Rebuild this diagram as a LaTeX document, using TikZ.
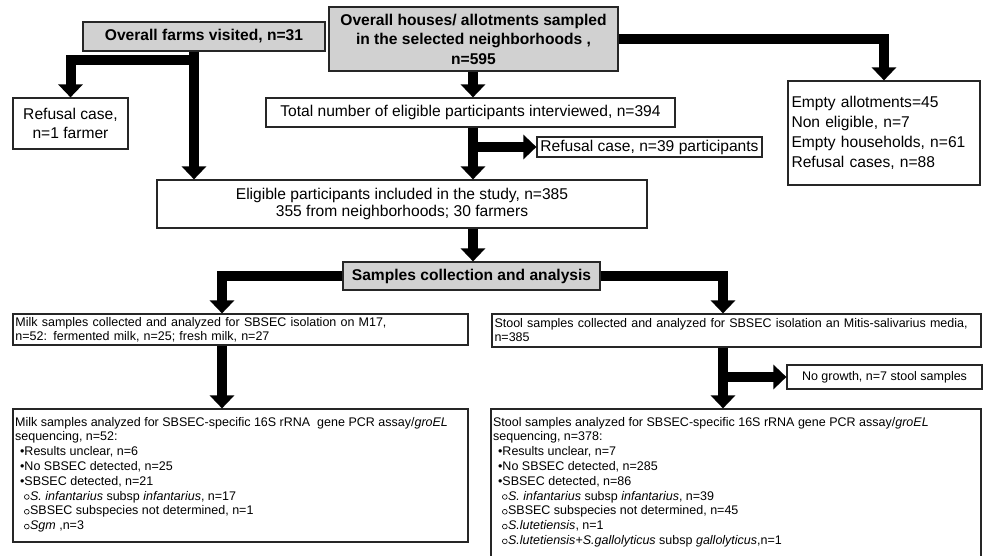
\documentclass[tikz,border=0pt]{standalone}
\usepackage{fontspec}
\setmainfont{Liberation Sans}
\usetikzlibrary{arrows.meta}
\newcommand\bigfnt{\fontsize{15.6}{19.5}\selectfont}
\newcommand\bigbold{\fontsize{15.6}{19.5}\selectfont\bfseries}
\newcommand\eligfnt{\fontsize{15.6}{17.5}\selectfont}
\newcommand\emptyfnt{\fontsize{15.6}{20}\selectfont}
\newcommand\smallfnt{\fontsize{12.5}{14}\selectfont}
\newcommand\anfnt{\fontsize{12.5}{14.8}\selectfont}
\newcommand\bul{\hspace*{5pt}•}
\newcommand\cir{\hspace*{9pt}\tikz[baseline=0pt]\draw[line width=0.6pt] (2.8pt,3.2pt) circle[radius=2.4pt];\hspace{0.6pt}}
\begin{document}
\begin{tikzpicture}[x=1pt,y=-1pt,
  box/.style={draw=black!85, line width=1.2pt, inner sep=0pt, align=center, font=\bigfnt},
  graybox/.style={box, fill=black!18, font=\bigbold},
  flow/.style={line width=10pt, line join=miter, -{Triangle[width=24pt,length=13pt]}}]
\useasboundingbox (0,0) rectangle (985,556);
\clip (0,0) rectangle (985,556);

% trunk x positions
\coordinate (tf) at (194,0);
\coordinate (th) at (473,0);
\coordinate (tm) at (222,0);
\coordinate (ts) at (723,0);
\coordinate (fb) at (194,60);

% nodes
\node[graybox, minimum width=242pt, minimum height=29pt] (farms) at (204,36.5) {Overall farms visited, n=31};
\node[graybox, minimum width=289pt, minimum height=64pt] (houses) at (473.5,39) {Overall houses/ allotments sampled\\in the selected neighborhoods ,\\n=595};
\node[box, minimum width=115pt, minimum height=51pt] (refusal) at (70.5,123.5) {Refusal case,\\n=1 farmer};
\node[box, minimum width=409pt, minimum height=29pt] (total) at (470.5,112.5) {Total number of eligible participants interviewed, n=394};
\node[box, minimum width=225pt, minimum height=20pt] (r39) at (649.5,147) {Refusal case, n=39 participants};
\node[box, font=\eligfnt, minimum width=490pt, minimum height=48pt] (eligible) at (402,204) {Eligible participants included in the study, n=385\\355 from neighborhoods; 30 farmers};
\node[box, font=\emptyfnt, align=left, text width=185pt, inner xsep=3.5pt, minimum height=104pt] (empty) at (884,133) {Empty allotments=45\\Non eligible, n=7\\Empty households, n=61\\Refusal cases, n=88};
\node[graybox, minimum width=257pt, minimum height=28pt] (samples) at (471.5,276) {Samples collection and analysis};
\node[box, font=\smallfnt, align=left, text width=450pt, inner xsep=2.5pt, minimum height=31pt] (milk) at (240.5,329.5) {Milk samples collected and analyzed for SBSEC isolation on M17,\\n=52: fermented milk, n=25; fresh milk, n=27};
\node[box, font=\smallfnt, align=left, text width=484pt, inner xsep=2.5pt, minimum height=33pt] (stool) at (736.5,330.5) {Stool samples collected and analyzed for SBSEC isolation an Mitis-salivarius media,\\n=385};
\node[box, font=\smallfnt, minimum width=195pt, minimum height=24pt] (nogrowth) at (884.5,377) {No growth, n=7 stool samples};
\node[box, minimum width=455pt, minimum height=133pt] (milkan) at (240.5,475.5) {};
\node[box, minimum width=490pt, minimum height=166pt] (stoolan) at (736,492) {};
\node[anchor=north west, inner sep=0pt, font=\anfnt, align=left] (milkantext) at ([xshift=2.5pt,yshift=-8.5pt]milkan.north west) {Milk samples analyzed for SBSEC-specific 16S rRNA\ \ gene PCR assay/\textit{groEL}\\
sequencing, n=52:\\
\bul Results unclear, n=6\\
\bul No SBSEC detected, n=25\\
\bul SBSEC detected, n=21\\
\cir\textit{S. infantarius} subsp \textit{infantarius}, n=17\\
\cir SBSEC subspecies not determined, n=1\\
\cir\textit{Sgm} ,n=3};
\node[anchor=north west, inner sep=0pt, font=\anfnt, align=left] (stoolantext) at ([xshift=2.5pt,yshift=-8.5pt]stoolan.north west) {Stool samples analyzed for SBSEC-specific 16S rRNA gene PCR assay/\textit{groEL}\\
sequencing, n=378:\\
\bul Results unclear, n=7\\
\bul No SBSEC detected, n=285\\
\bul SBSEC detected, n=86\\
\cir\textit{S. infantarius} subsp \textit{infantarius}, n=39\\
\cir SBSEC subspecies not determined, n=45\\
\cir\textit{S.lutetiensis}, n=1\\
\cir\textit{S.lutetiensis}+\textit{S.gallolyticus} subsp \textit{gallolyticus},n=1};

% connectors
\draw[flow] (farms.south -| tf) -- (eligible.north -| tf);
\draw[flow] (fb) -| (refusal.north);
\draw[flow] (houses.south -| th) -- (total.north -| th);
\draw[flow] (houses.east) -| (empty.north);
\draw[flow] (total.south -| th) -- (eligible.north -| th);
\draw[flow] (th |- r39.west) -- (r39.west);
\draw[flow] (eligible.south -| th) -- (samples.north -| th);
\draw[flow] (samples.west) -| (milk.north -| tm);
\draw[flow] (samples.east) -| (stool.north -| ts);
\draw[flow] (milk.south -| tm) -- (milkan.north -| tm);
\draw[flow] (stool.south -| ts) -- (stoolan.north -| ts);
\draw[flow] (ts |- nogrowth.west) -- (nogrowth.west);
\end{tikzpicture}
\end{document}
